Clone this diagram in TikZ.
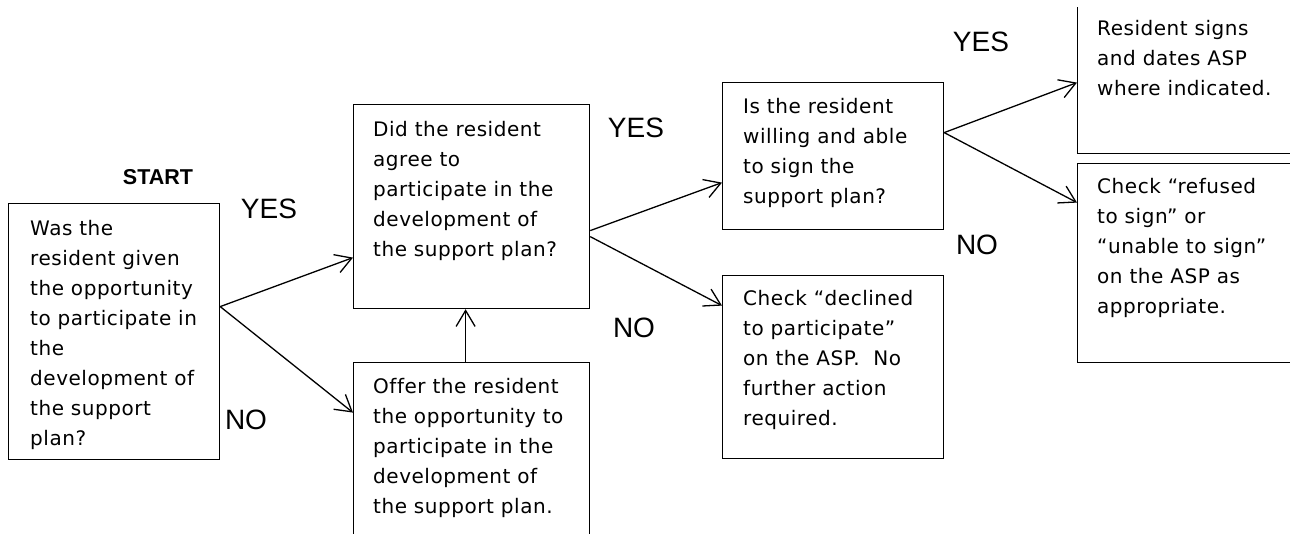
\documentclass[tikz,border=0pt]{standalone}
\usepackage{fontspec}
\setmainfont{Liberation Sans}
\newfontfamily\boxfont[LetterSpace=2.7,Ligatures=NoCommon]{DejaVu Sans}
\usetikzlibrary{arrows.meta}
\begin{document}
\begin{tikzpicture}[x=1pt,y=-1pt,
  box/.style={draw, line width=1.2pt, anchor=north west, inner sep=0pt},
  txt/.style={anchor=north west, inner sep=0pt, align=left, font=\boxfont\fontsize{20}{30}\selectfont},
  lab/.style={inner sep=0pt, font=\fontsize{28}{30}\selectfont},
  conn/.style={line width=1.3pt, -{Straight Barb[length=16pt,width=19pt,line width=1.3pt]}}
]
\useasboundingbox (0,0) rectangle (1290,533);
\fill[white] (0,0) rectangle (1290,533);
\clip (0,7) rectangle (1290,533);

% boxes
\node[box, minimum width=211pt, minimum height=256pt] (b1) at (8,203) {};
\node[box, minimum width=236pt, minimum height=204pt] (b2) at (353,104) {};
\node[box, minimum width=236pt, minimum height=198pt] (b3) at (353,362) {};
\node[box, minimum width=221pt, minimum height=147pt] (b4) at (722,82) {};
\node[box, minimum width=221pt, minimum height=183pt] (b5) at (722,275) {};
\node[box, minimum width=233pt, minimum height=150pt] (b6) at (1077,3) {};
\node[box, minimum width=233pt, minimum height=199pt] (b7) at (1077,163) {};

% texts
\node[txt] (t1) at (30,214) {\strut Was the\\resident given\\the opportunity\\to participate in\\the\\development of\\the support\\plan?};
\node[txt] (t2) at (373,115) {\strut Did the resident\\agree to\\participate in the\\development of\\the support plan?};
\node[txt] (t3) at (373,372) {\strut Offer the resident\\the opportunity to\\participate in the\\development of\\the support plan.};
\node[txt] (t4) at (743,92) {\strut Is the resident\\willing and able\\to sign the\\support plan?};
\node[txt] (t5) at (743,284) {\strut Check “declined\\to participate”\\on the ASP.\ \ No\\further action\\required.};
\node[txt] (t6) at (1097,14) {\strut Resident signs\\and dates ASP\\where indicated.};
\node[txt] (t7) at (1097,172) {\strut Check “refused\\to sign” or\\“unable to sign”\\on the ASP as\\appropriate.};

% labels
\node[inner sep=0pt, font=\bfseries\fontsize{21.5}{24}\selectfont] (start) at (158,177.5) {START};
\node[lab] (y1) at (269,208.5) {YES};
\node[lab] (n1) at (246,420) {NO};
\node[lab] (y2) at (636,128) {YES};
\node[lab] (n2) at (634,328) {NO};
\node[lab] (y3) at (981,42) {YES};
\node[lab] (n3) at (977,245) {NO};

% connectors
\draw[conn] ([yshift=25pt]b1.east) -- ([yshift=-51pt]b2.west);
\draw[conn] ([yshift=25pt]b1.east) -- ([yshift=49pt]b3.west);
\draw[conn] ([xshift=-6pt]b3.north) -- ([xshift=-6pt]b2.south);
\draw[conn] ([yshift=-24pt]b2.east) -- ([yshift=-26.5pt]b4.west);
\draw[conn] ([yshift=-30pt]b2.east) -- ([yshift=61.5pt]b5.west);
\draw[conn] ([yshift=23.5pt]b4.east) -- ([yshift=-4pt]b6.west);
\draw[conn] ([yshift=23.5pt]b4.east) -- ([yshift=60.5pt]b7.west);
\end{tikzpicture}
\end{document}
